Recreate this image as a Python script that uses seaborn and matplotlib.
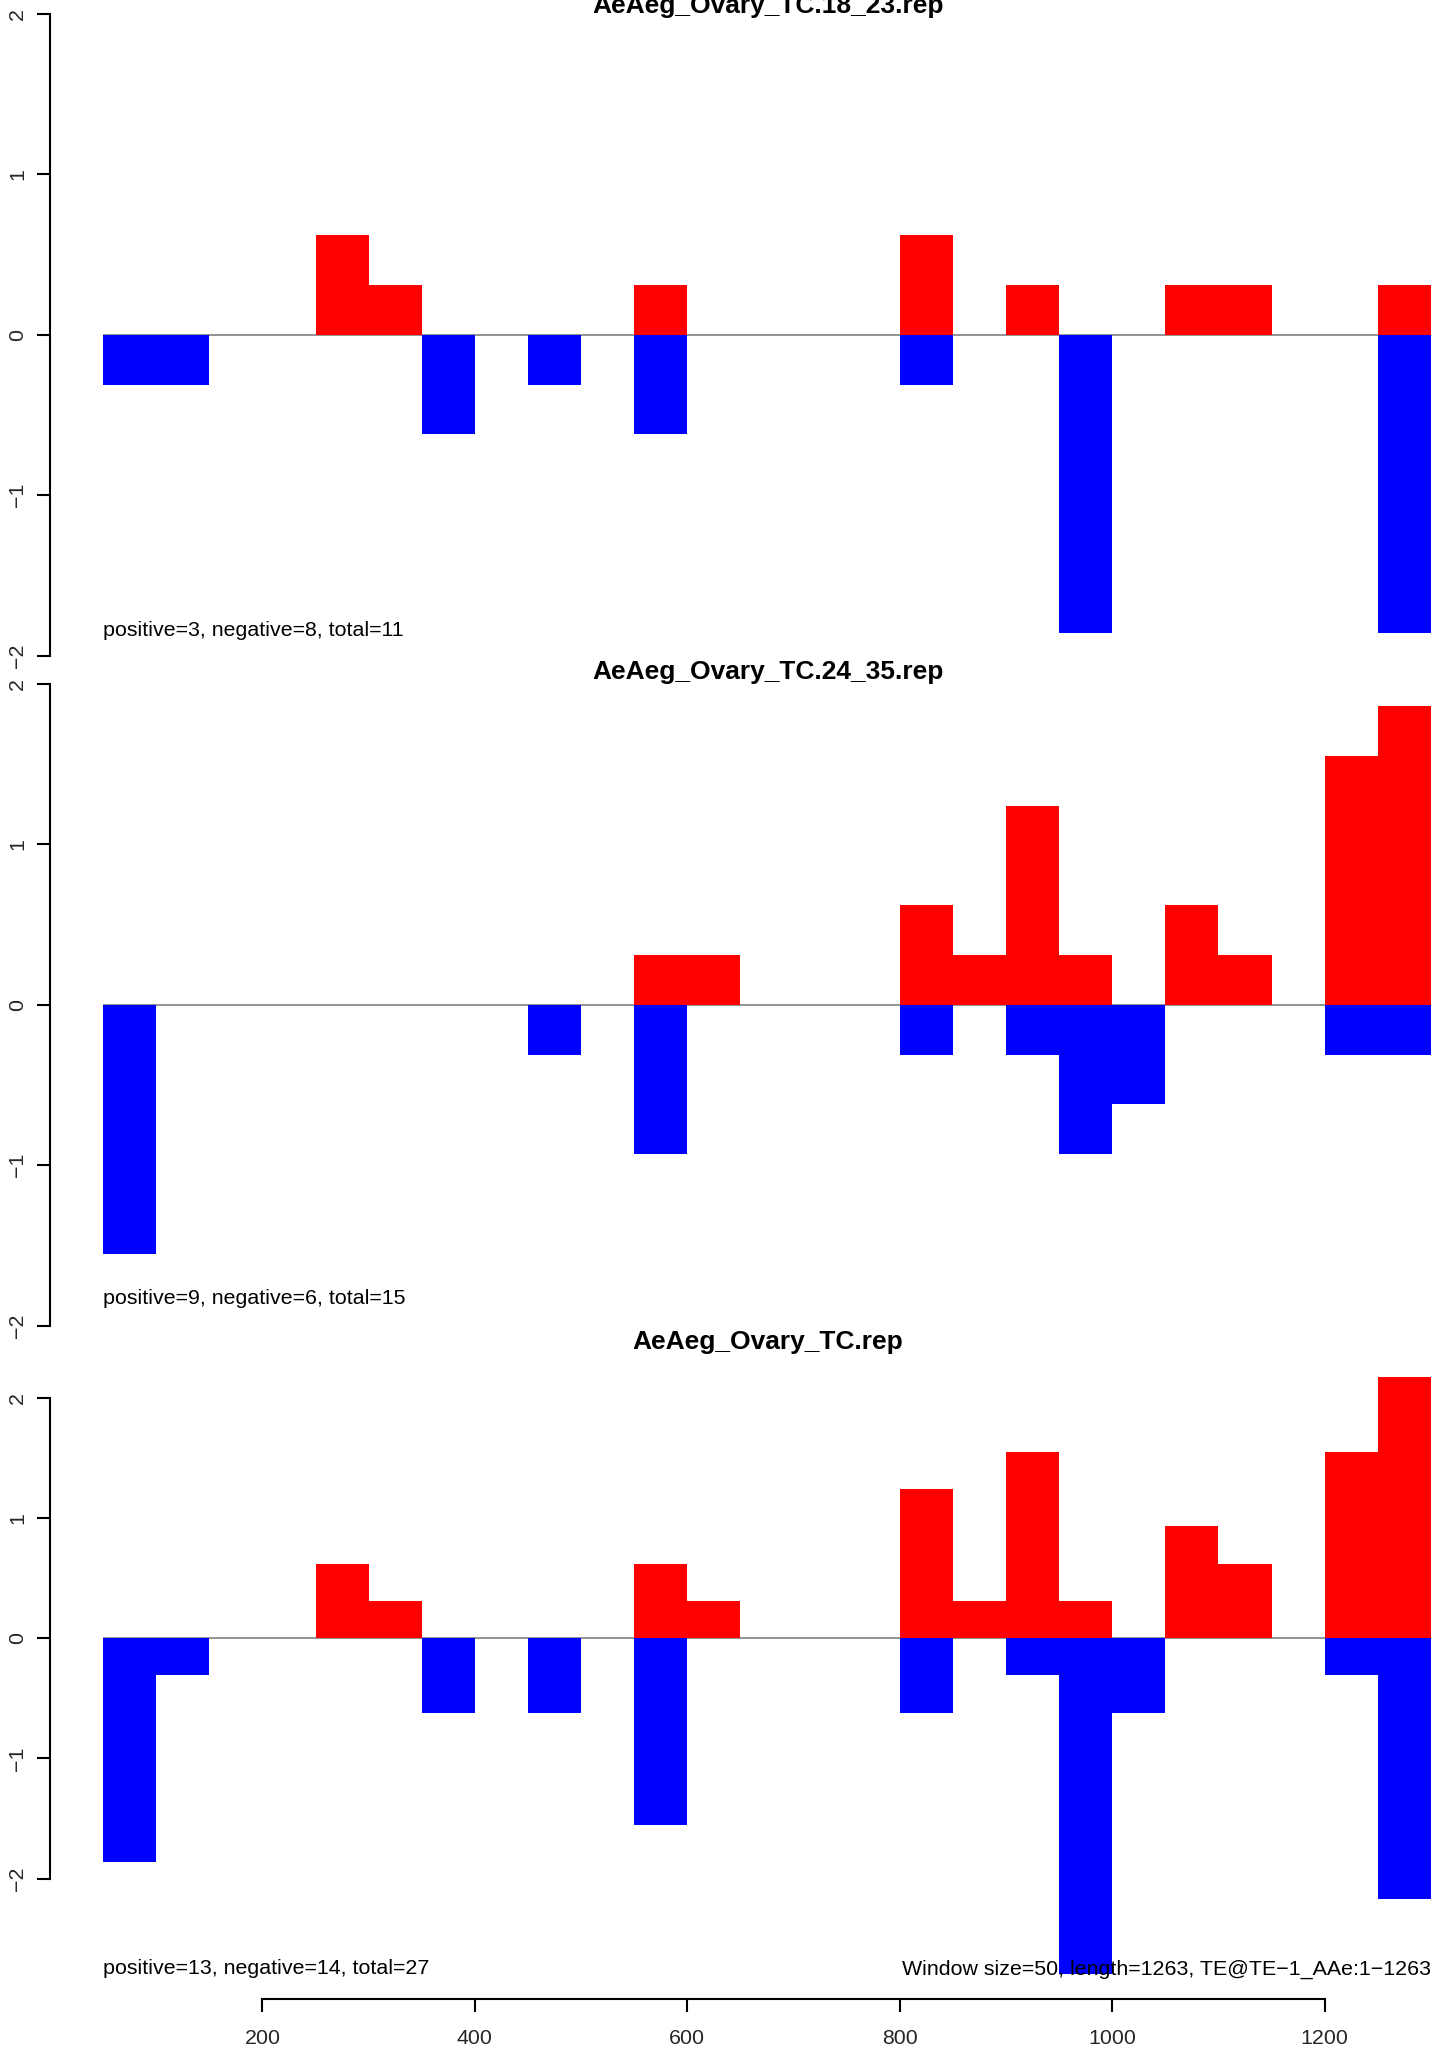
import numpy as np
import pandas as pd
import matplotlib
matplotlib.use("Agg")
import matplotlib.pyplot as plt
import seaborn as sns

# ---------------- data ----------------
bin_starts = [50 + 50 * i for i in range(25)]   # window starts (window size 50)
bin_width = 50

titles = ["AeAeg_Ovary_TC.18_23.rep", "AeAeg_Ovary_TC.24_35.rep", "AeAeg_Ovary_TC.rep"]
count_labels = ["positive=3, negative=8, total=11",
                "positive=9, negative=6, total=15",
                "positive=13, negative=14, total=27"]
footer = "Window size=50, length=1263, TE@TE\u22121_AAe:1\u22121263"

#                0     1     2  3  4     5     6     7  8     9  10    11    12 13 14 15    16    17    18    19    20    21    22 23    24
p1_pos = [0,    0,    0, 0, 0.62, 0.31, 0,    0, 0,    0, 0.31, 0,    0, 0, 0, 0.62, 0,    0.31, 0,    0,    0.31, 0.31, 0, 0,    0.31]
p1_neg = [-0.31,-0.31,0, 0, 0,    0,   -0.62, 0, -0.31,0,-0.62, 0,    0, 0, 0,-0.31, 0,    0,   -1.86, 0,    0,    0,    0, 0,   -1.86]

p2_pos = [0,    0,    0, 0, 0,    0,    0,    0, 0,    0, 0.31, 0.31, 0, 0, 0, 0.62, 0.31, 1.24, 0.31, 0,    0.62, 0.31, 0, 1.55, 1.86]
p2_neg = [-1.55,0,    0, 0, 0,    0,    0,    0, -0.31,0,-0.93, 0,    0, 0, 0,-0.31, 0,   -0.31,-0.93,-0.62, 0,    0,    0,-0.31,-0.31]

p3_pos = [0,    0,    0, 0, 0.62, 0.31, 0,    0, 0,    0, 0.62, 0.31, 0, 0, 0, 1.24, 0.31, 1.55, 0.31, 0,    0.93, 0.62, 0, 1.55, 2.17]
p3_neg = [-1.86,-0.31,0, 0, 0,    0,   -0.62, 0, -0.62,0,-1.55, 0,    0, 0, 0,-0.62, 0,   -0.31,-2.79,-0.62, 0,    0,    0,-0.31,-2.17]

x_ticks = [200, 400, 600, 800, 1000, 1200]
y_ticks = [-2, -1, 0, 1, 2]
y_tick_labels = ["\u22122", "\u22121", "0", "1", "2"]

# ---------------- style ----------------
sns.set_theme(style="white")
plt.rcParams["font.family"] = ["Liberation Sans", "DejaVu Sans"]
plt.rcParams["axes.facecolor"] = "none"

W, H = 1452, 2049
fig = plt.figure(figsize=(W / 100, H / 100), dpi=100)
fig.patch.set_facecolor("white")

def add_axes_px(left, top, right, bottom):
    return fig.add_axes([left / W, 1 - bottom / H, (right - left) / W, (bottom - top) / H])

# plot-region pixel boxes (left, top, right, bottom) and y limits
ax_left, ax_right = 50.0, 1484.0
panels = [
    dict(box=(ax_left, 14.0, ax_right, 655.7), ylim=(-2, 2), pos=p1_pos, neg=p1_neg,
         title_y=13, text_y=-1.84),
    dict(box=(ax_left, 684.0, ax_right, 1325.7), ylim=(-2, 2), pos=p2_pos, neg=p2_neg,
         title_y=679, text_y=-1.83),
    dict(box=(ax_left, 1353.0, ax_right, 1999.0), ylim=(-3.0, 2.37), pos=p3_pos, neg=p3_neg,
         title_y=1349, text_y=-2.75),
]

centers = [s + bin_width / 2 for s in bin_starts]
FS = 15.4

for k, pnl in enumerate(panels):
    ax = add_axes_px(*pnl["box"])
    df = pd.DataFrame({"x": centers, "pos": pnl["pos"], "neg": pnl["neg"]})
    # zero line under bars
    ax.hlines(0, bin_starts[0], bin_starts[-1] + bin_width, color="#808080", lw=1.2, zorder=0)
    sns.barplot(data=df, x="x", y="pos", native_scale=True, width=1, color="#ff0000",
                saturation=1, linewidth=0, errorbar=None, ax=ax, zorder=2)
    sns.barplot(data=df, x="x", y="neg", native_scale=True, width=1, color="#0000ff",
                saturation=1, linewidth=0, errorbar=None, ax=ax, zorder=2)
    ax.set_xlim(0, 1350)
    ax.set_ylim(*pnl["ylim"])
    ax.set_xlabel("")
    ax.set_ylabel("")
    for s in ["top", "right"]:
        ax.spines[s].set_visible(False)
    ax.spines["left"].set_bounds(-2, 2)
    ax.spines["left"].set_linewidth(1.5)
    ax.spines["left"].set_color("black")
    ax.set_yticks(y_ticks)
    ax.set_yticklabels(y_tick_labels, rotation=90, va="center", fontsize=FS)
    ax.tick_params(axis="y", direction="out", length=9.4, width=1.5, color="black",
                   pad=7, left=True)
    if k == 2:
        ax.spines["bottom"].set_bounds(x_ticks[0], x_ticks[-1])
        ax.spines["bottom"].set_linewidth(1.5)
        ax.spines["bottom"].set_color("black")
        ax.set_xticks(x_ticks)
        ax.set_xticklabels([str(t) for t in x_ticks], fontsize=FS)
        ax.tick_params(axis="x", direction="out", length=9.4, width=1.5, color="black",
                       pad=12, bottom=True)
        ax.text(bin_starts[-1] + bin_width, pnl["text_y"], footer, ha="right", va="center",
                fontsize=FS, color="black")
    else:
        ax.spines["bottom"].set_visible(False)
        ax.set_xticks([])
    ax.text(bin_starts[0], pnl["text_y"], count_labels[k], ha="left", va="center",
            fontsize=FS, color="black")
    fig.text(768 / W, 1 - pnl["title_y"] / H, titles[k], ha="center", va="baseline",
             fontsize=19, fontweight="bold", color="black")

fig.savefig("out.png", dpi=100, facecolor="white")
